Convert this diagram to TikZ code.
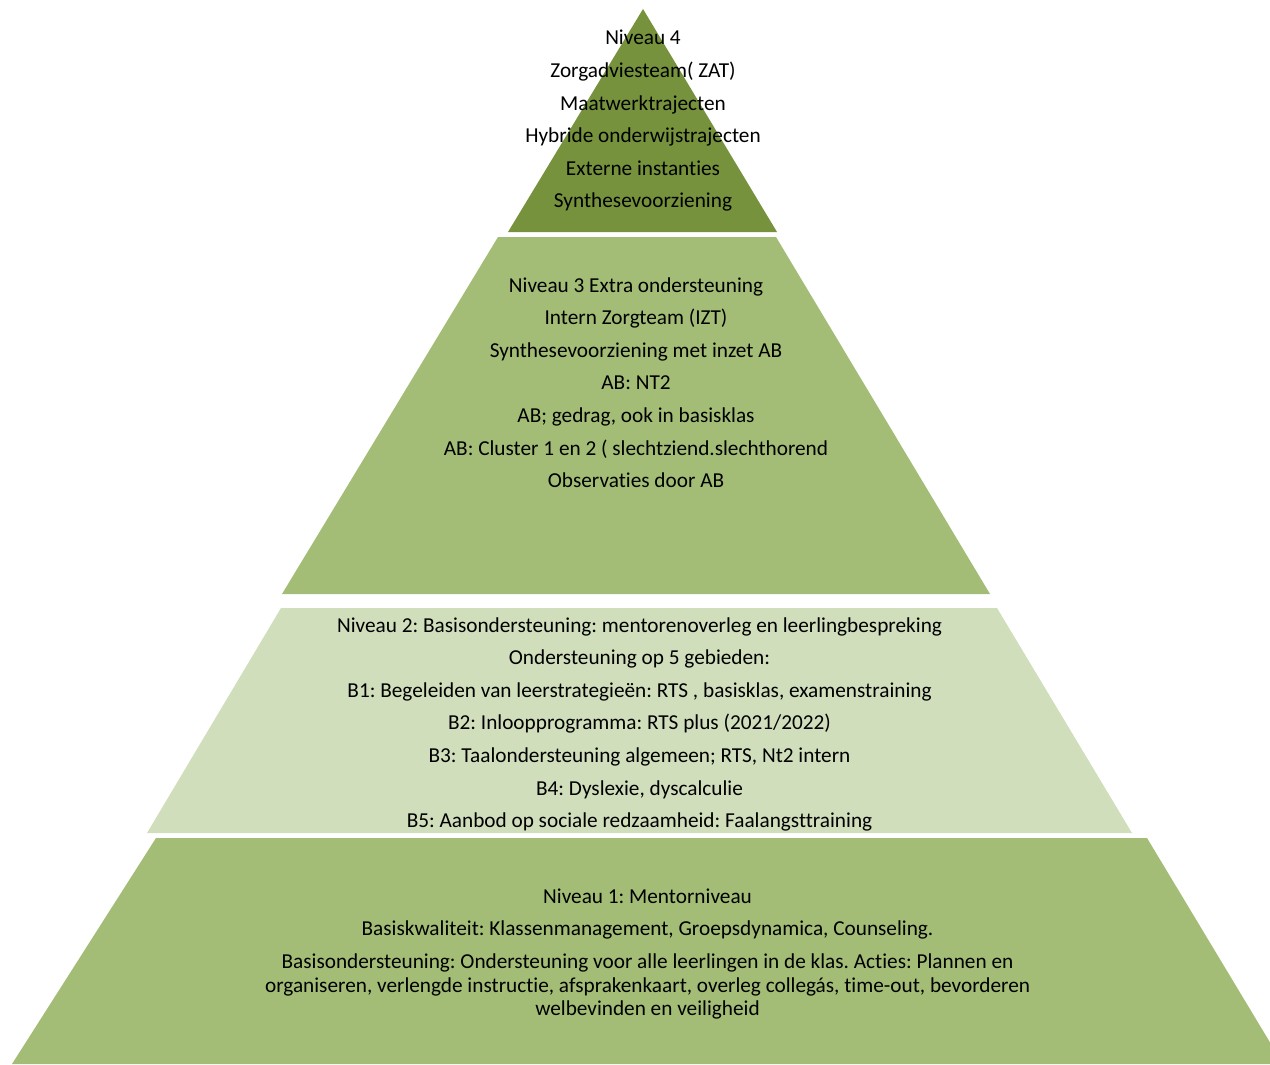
\documentclass[tikz,border=0pt]{standalone}
\usepackage{fontspec}
\setmainfont{Carlito}[Ligatures=NoCommon]
\frenchspacing
\definecolor{darkolive}{HTML}{76923C}
\definecolor{midolive}{HTML}{A3BD76}
\definecolor{paleolive}{HTML}{D1DEBC}

\begin{document}
\begin{tikzpicture}[x=0.02cm,y=-0.02cm,
        line/.style={anchor=base,inner sep=0pt,font=\fontsize{12.1}{14}\selectfont}]
        \useasboundingbox (0,0) rectangle (1270,1064);
        \clip (0,0) rectangle (1270,1064);

        % the four layers of the pyramid
        \fill[darkolive] (643,9) -- (777,232) -- (508,232) -- cycle;
        \fill[midolive]  (498,237) -- (776,237) -- (990,594) -- (282,594) -- cycle;
        \fill[paleolive] (281,608) -- (997,608) -- (1132,833) -- (147,833) -- cycle;
        \fill[midolive]  (156,838) -- (1147,838) -- (1283,1064) -- (12,1064) -- cycle;

        \foreach \txt [count=\i] in {Niveau 4, Zorgadviesteam( ZAT), Maatwerktrajecten,
                Hybride onderwijstrajecten, Externe instanties, Synthesevoorziening} {
            \node[line] (top\i) at (643,{12.4+32.6*\i}) {\txt};
        }

        \foreach \txt [count=\i] in {Niveau 3 Extra ondersteuning, Intern Zorgteam (IZT),
                Synthesevoorziening met inzet AB, AB: NT2, {AB; gedrag, ook in basisklas},
                AB: Cluster 1 en 2 ( slechtziend.slechthorend, Observaties door AB} {
            \node[line] (extra\i) at (636,{259.4+32.6*\i}) {\txt};
        }

        \foreach \txt [count=\i] in {Niveau 2: Basisondersteuning: mentorenoverleg en leerlingbespreking,
                Ondersteuning op 5 gebieden:,
                {B1: Begeleiden van leerstrategieën: RTS , basisklas, examenstraining},
                B2: Inloopprogramma: RTS plus (2021/2022),
                {B3: Taalondersteuning algemeen; RTS, Nt2 intern},
                {B4: Dyslexie, dyscalculie},
                B5: Aanbod op sociale redzaamheid: Faalangsttraining} {
            \node[line] (basis\i) at (639.5,{599.4+32.6*\i}) {\txt};
        }

        \foreach \y/\txt [count=\i] in {903/Niveau 1: Mentorniveau,
                935/{Basiskwaliteit: Klassenmanagement, Groepsdynamica, Counseling.},
                968/{Basisondersteuning: Ondersteuning voor alle leerlingen in de klas. Acties: Plannen en},
                992/{organiseren, verlengde instructie, afsprakenkaart, overleg collegás, time-out, bevorderen},
                1015/welbevinden en veiligheid} {
            \node[line] (mentor\i) at (647.5,\y) {\txt};
        }
\end{tikzpicture}
\end{document}
